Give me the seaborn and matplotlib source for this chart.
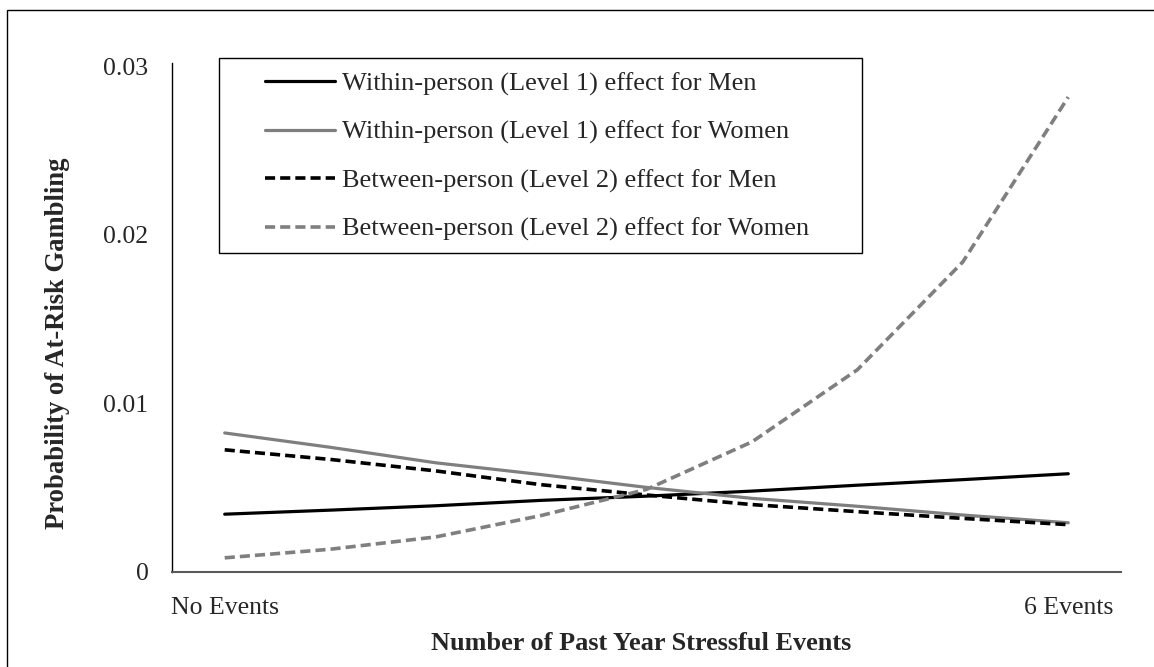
import numpy as np
import pandas as pd
import matplotlib
matplotlib.use("Agg")
import matplotlib.pyplot as plt
import matplotlib.patches as patches
import seaborn as sns

# x positions (number of past year stressful events), 9 points from 0 to 6
events = [0, 0.75, 1.5, 2.25, 3, 3.75, 4.5, 5.25, 6]

# predicted probabilities
within_men = [0.00343, 0.00367, 0.00393, 0.00425, 0.00450, 0.00480, 0.00515, 0.00548, 0.00583]
within_women = [0.00825, 0.00740, 0.00648, 0.00578, 0.00502, 0.00437, 0.00390, 0.00338, 0.00292]
between_men = [0.00725, 0.00668, 0.00600, 0.00518, 0.00457, 0.00400, 0.00358, 0.00318, 0.00281]
between_women = [0.00084, 0.00135, 0.00208, 0.00335, 0.00490, 0.00772, 0.01200, 0.01840, 0.02818]

series_names = [
    "Within-person (Level 1) effect for Men",
    "Within-person (Level 1) effect for Women",
    "Between-person (Level 2) effect for Men",
    "Between-person (Level 2) effect for Women",
]
series_values = [within_men, within_women, between_men, between_women]
series_colors = ["#000000", "#7f7f7f", "#000000", "#7f7f7f"]
series_dashed = [False, False, True, True]

x_tick_pos = [0, 6]
x_tick_labels = ["No Events", "6 Events"]
y_ticks = [0, 0.01, 0.02, 0.03]
y_tick_labels = ["0", "0.01", "0.02", "0.03"]

sns.set_style("white")
plt.rcParams["font.family"] = ["Liberation Serif", "DejaVu Serif"]

fig = plt.figure(figsize=(11.54, 6.67), dpi=100)
ax = fig.add_axes([172 / 1154, 1 - 572 / 667, (1121 - 172) / 1154, (572 - 63) / 667])

for name, vals, col, dashed in zip(series_names, series_values, series_colors, series_dashed):
    df = pd.DataFrame({"events": events, "prob": vals})
    if dashed:
        sns.lineplot(data=df, x="events", y="prob", ax=ax, color=col, lw=2.6,
                     linestyle=(0, (2.8, 1.4)), label=name, legend=False)
    else:
        sns.lineplot(data=df, x="events", y="prob", ax=ax, color=col, lw=2.3,
                     label=name, legend=False)

ax.set_xlim(-0.375, 6.375)
ax.set_ylim(0, 0.0302)
ax.set_xticks(x_tick_pos)
ax.set_xticklabels(x_tick_labels, fontsize=18.5)
ax.set_yticks(y_ticks)
ax.set_yticklabels(y_tick_labels, fontsize=18.5)
ax.tick_params(axis="both", length=0)
ax.tick_params(axis="x", pad=18)
ax.tick_params(axis="y", pad=17)

for s in ["top", "right"]:
    ax.spines[s].set_visible(False)
ax.spines["left"].set_color("#000000")
ax.spines["left"].set_linewidth(1.0)
ax.spines["bottom"].set_color("#595959")
ax.spines["bottom"].set_linewidth(1.5)

ax.set_xlabel("")
ax.set_ylabel("")
if ax.get_legend() is not None:
    ax.get_legend().remove()

fig.text(641 / 1154, 1 - 643 / 667, "Number of Past Year Stressful Events",
         ha="center", va="center", fontsize=18.9, fontweight="bold")
fig.text(58 / 1154, 1 - 343 / 667, "Probability of At-Risk Gambling",
         ha="center", va="center", rotation=90, fontsize=19.2, fontweight="bold")

# legend (frame drawn separately so padding can differ by direction)
handles, labels = ax.get_legend_handles_labels()
leg = fig.legend(handles, labels, loc="upper left",
                 bbox_to_anchor=(265 / 1154, 1 - 72 / 667),
                 frameon=False, fontsize=19, handlelength=2.65,
                 handletextpad=0.28, labelspacing=0.93, borderpad=0,
                 borderaxespad=0)
fig.patches.append(patches.Rectangle((219 / 1154, 1 - 253 / 667),
                                     (862 - 219) / 1154, (253 - 58) / 667,
                                     transform=fig.transFigure, fill=False,
                                     edgecolor="#000000", lw=1.0))

# outer chart border (only top and left visible in the crop)
fig.patches.append(patches.Rectangle((7 / 1154, -0.1), 1.2, 1.1 - 10 / 667,
                                     transform=fig.transFigure, fill=False,
                                     edgecolor="#000000", lw=1.0))

fig.savefig("out.png", dpi=100)
